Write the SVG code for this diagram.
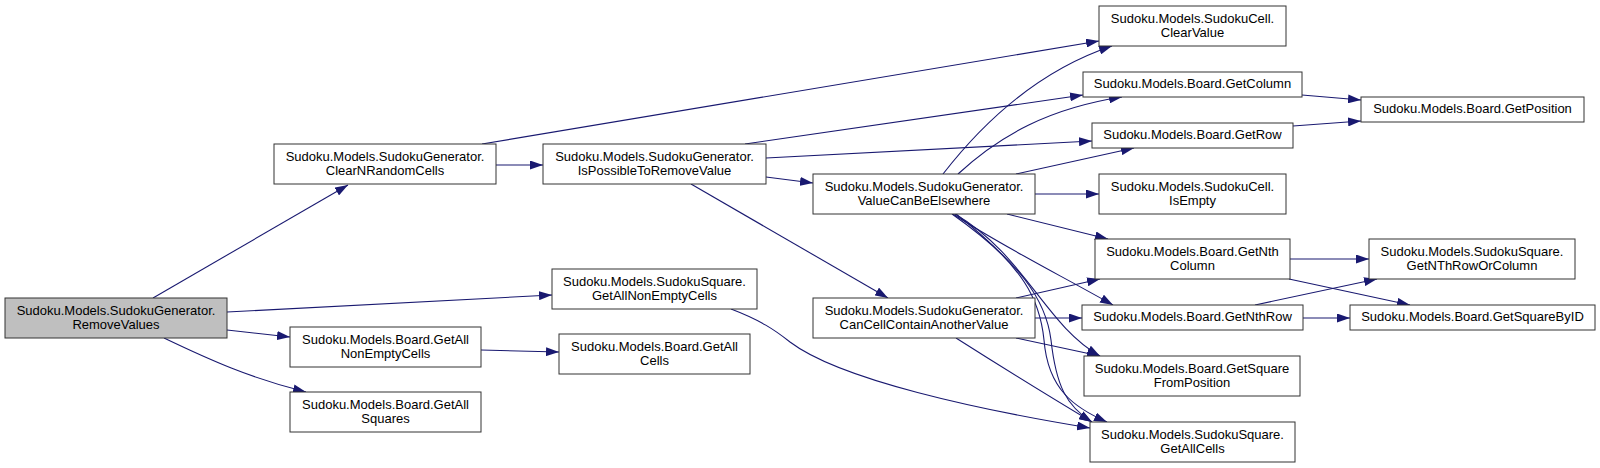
<svg xmlns="http://www.w3.org/2000/svg" width="1600" height="468" viewBox="0 0 1600 468">
<style>
.n rect{fill:#ffffff;stroke:#333333;stroke-width:1}
.n.cur rect{fill:#bfbfbf}
.n text{font-family:"Liberation Sans",Arial,sans-serif;font-size:13px;fill:#000000;text-anchor:middle}
.e path{fill:none;stroke:#191970;stroke-width:1.1;marker-end:url(#ah)}
</style>
<defs>
<marker id="ah" markerUnits="userSpaceOnUse" markerWidth="13" markerHeight="9" refX="13" refY="4.5" orient="auto">
<path d="M0,0 L13,4.5 L0,9 z" fill="#191970"/>
</marker>
</defs>
<rect x="0" y="0" width="1600" height="468" fill="#ffffff"/>
<g id="edges" class="e">
<path d="M153,298 L348,185"/>
<path d="M227,312 L552,295"/>
<path d="M227,330 L290,337"/>
<path d="M164,338 C210,360 250,378 306,392"/>
<path d="M496,165 L543,165"/>
<path d="M482,144 L1099,41"/>
<path d="M745,144 L1083,95"/>
<path d="M766,158 L1092,141"/>
<path d="M766,177 L813,183"/>
<path d="M691,184 L888,298"/>
<path d="M943,174 C985,120 1040,70 1112,46"/>
<path d="M958,174 C1000,135 1050,108 1122,97"/>
<path d="M1016,174 L1134,148"/>
<path d="M1035,194 L1099,194"/>
<path d="M1007,214 L1108,239"/>
<path d="M953,214 C1000,245 1060,275 1113,305"/>
<path d="M955,214 C1025,255 1045,325 1100,356"/>
<path d="M952,214 C1020,262 1046,300 1051,340 C1056,385 1066,406 1092,422"/>
<path d="M956,214 C1025,268 1040,300 1044,340 C1048,390 1075,408 1107,422"/>
<path d="M1016,298 L1100,279"/>
<path d="M1035,318 L1082,318"/>
<path d="M1016,338 L1100,356"/>
<path d="M956,338 Q1030,385 1092,422"/>
<path d="M731,309 C760,320 775,330 790,342 C840,380 980,410 1090,428"/>
<path d="M481,350 L559,352"/>
<path d="M1302,95 L1361,100"/>
<path d="M1293,126 L1361,121"/>
<path d="M1290,259 L1369,259"/>
<path d="M1289,279 L1410,305"/>
<path d="M1255,305 L1377,279"/>
<path d="M1303,318 L1350,318"/>
</g>
<g id="RemoveValues" class="n cur"><rect x="5" y="298" width="222" height="40"/><text x="116" y="315">Sudoku.Models.SudokuGenerator.</text><text x="116" y="329">RemoveValues</text></g>
<g id="ClearNRandomCells" class="n"><rect x="274" y="144" width="222" height="40"/><text x="385" y="161">Sudoku.Models.SudokuGenerator.</text><text x="385" y="175">ClearNRandomCells</text></g>
<g id="IsPossibleToRemoveValue" class="n"><rect x="543" y="144" width="223" height="40"/><text x="654.5" y="161">Sudoku.Models.SudokuGenerator.</text><text x="654.5" y="175">IsPossibleToRemoveValue</text></g>
<g id="SquareGetAllNonEmptyCells" class="n"><rect x="552" y="269" width="205" height="40"/><text x="654.5" y="286">Sudoku.Models.SudokuSquare.</text><text x="654.5" y="300">GetAllNonEmptyCells</text></g>
<g id="BoardGetAllNonEmptyCells" class="n"><rect x="290" y="327" width="191" height="40"/><text x="385.5" y="344">Sudoku.Models.Board.GetAll</text><text x="385.5" y="358">NonEmptyCells</text></g>
<g id="BoardGetAllSquares" class="n"><rect x="290" y="392" width="191" height="40"/><text x="385.5" y="409">Sudoku.Models.Board.GetAll</text><text x="385.5" y="423">Squares</text></g>
<g id="BoardGetAllCells" class="n"><rect x="559" y="334" width="191" height="40"/><text x="654.5" y="351">Sudoku.Models.Board.GetAll</text><text x="654.5" y="365">Cells</text></g>
<g id="ValueCanBeElsewhere" class="n"><rect x="813" y="174" width="222" height="40"/><text x="924" y="191">Sudoku.Models.SudokuGenerator.</text><text x="924" y="205">ValueCanBeElsewhere</text></g>
<g id="CanCellContainAnotherValue" class="n"><rect x="813" y="298" width="222" height="40"/><text x="924" y="315">Sudoku.Models.SudokuGenerator.</text><text x="924" y="329">CanCellContainAnotherValue</text></g>
<g id="ClearValue" class="n"><rect x="1099" y="6" width="187" height="40"/><text x="1192.5" y="23">Sudoku.Models.SudokuCell.</text><text x="1192.5" y="37">ClearValue</text></g>
<g id="GetColumn" class="n"><rect x="1083" y="72" width="219" height="25"/><text x="1192.5" y="88">Sudoku.Models.Board.GetColumn</text></g>
<g id="GetRow" class="n"><rect x="1092" y="123" width="201" height="25"/><text x="1192.5" y="139">Sudoku.Models.Board.GetRow</text></g>
<g id="IsEmpty" class="n"><rect x="1099" y="174" width="187" height="40"/><text x="1192.5" y="191">Sudoku.Models.SudokuCell.</text><text x="1192.5" y="205">IsEmpty</text></g>
<g id="GetNthColumn" class="n"><rect x="1095" y="239" width="195" height="40"/><text x="1192.5" y="256">Sudoku.Models.Board.GetNth</text><text x="1192.5" y="270">Column</text></g>
<g id="GetNthRow" class="n"><rect x="1082" y="305" width="221" height="25"/><text x="1192.5" y="321">Sudoku.Models.Board.GetNthRow</text></g>
<g id="GetSquareFromPosition" class="n"><rect x="1084" y="356" width="216" height="40"/><text x="1192" y="373">Sudoku.Models.Board.GetSquare</text><text x="1192" y="387">FromPosition</text></g>
<g id="SquareGetAllCells" class="n"><rect x="1090" y="422" width="205" height="40"/><text x="1192.5" y="439">Sudoku.Models.SudokuSquare.</text><text x="1192.5" y="453">GetAllCells</text></g>
<g id="GetPosition" class="n"><rect x="1361" y="97" width="223" height="25"/><text x="1472.5" y="113">Sudoku.Models.Board.GetPosition</text></g>
<g id="GetNThRowOrColumn" class="n"><rect x="1369" y="239" width="206" height="40"/><text x="1472" y="256">Sudoku.Models.SudokuSquare.</text><text x="1472" y="270">GetNThRowOrColumn</text></g>
<g id="GetSquareByID" class="n"><rect x="1350" y="305" width="245" height="25"/><text x="1472.5" y="321">Sudoku.Models.Board.GetSquareByID</text></g>
</svg>
